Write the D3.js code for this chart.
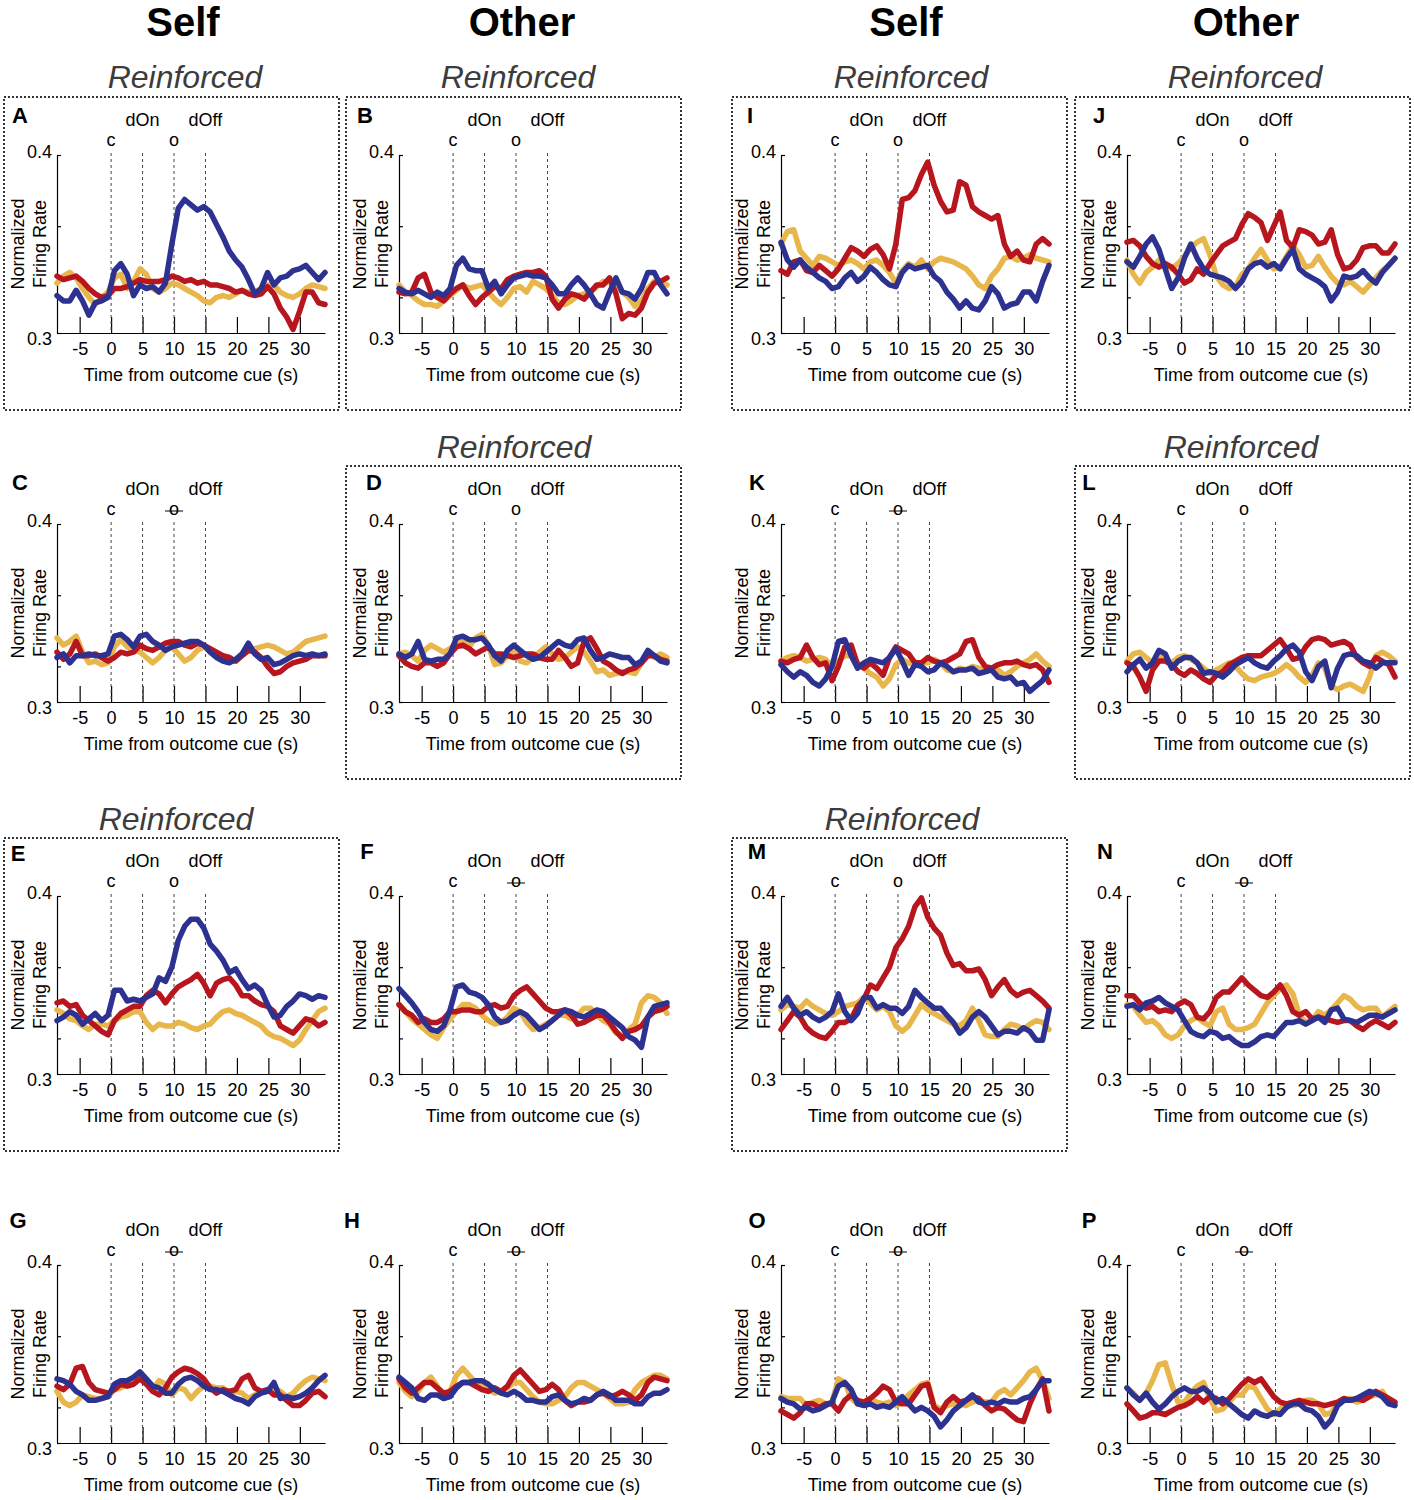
<!DOCTYPE html>
<html lang="en">
<head>
<meta charset="utf-8">
<title>Self / Other - Normalized Firing Rate</title>
<script src="https://cdn.jsdelivr.net/npm/d3@7"></script>
<style>
  body { margin: 0; background: #fff; }
  svg { font-family: "Liberation Sans", Arial, sans-serif; }
  .trace { fill: none; stroke-width: 5.5px; stroke-linejoin: round; stroke-linecap: round; }
  .yellow { stroke: #e8b64a; }
  .red { stroke: #b8161e; }
  .blue { stroke: #2d3291; }
  .event { stroke: #444; stroke-width: 1px; stroke-dasharray: 3,3; }
  .frame { fill: none; stroke: #333; stroke-width: 2px; stroke-dasharray: 2,2; }
  .axis path, .axis line { stroke: #000; stroke-width: 1.2px; }
  .axis text { font-size: 18px; fill: #000; font-family: "Liberation Sans", Arial, sans-serif; }
</style>
</head>
<body>
<script>
// time grid (s from outcome cue) at which the traces were read
const times = d3.range(43).map(i => -8.6 + i * (42.6 / 42));
const xTicks = [-5, 0, 5, 10, 15, 20, 25, 30];
const yTicks = [0.3, 0.32, 0.36, 0.4];
const events = [[0, 'c', 'low'], [5, 'dOn', 'high'], [10, 'o', 'low'], [15, 'dOff', 'high']];

// normalized firing rate x 1000, one value per time point
const A_yellow = [328,332,334,331,325,320,316,320,323,331,333,325,329,336,333,325,323,325,328,327,325,323,321,318,317,320,321,320,322,324,323,323,325,327,327,323,321,320,322,325,327,326,325];
const A_red = [332,330,331,332,329,325,322,320,321,325,325,326,328,330,329,329,329,330,332,331,329,330,328,329,327,327,326,325,323,324,322,321,322,326,322,314,309,302,312,323,323,317,316];
const A_blue = [321,318,318,324,318,310,317,318,320,335,339,333,321,327,325,326,323,328,350,370,375,372,369,371,368,361,354,346,341,337,330,322,325,334,327,331,332,335,336,338,334,330,334];

const B_yellow = [327,323,321,318,316,316,315,318,321,324,327,325,326,327,323,319,316,320,325,326,323,329,327,325,321,317,316,318,321,322,323,326,329,328,326,323,320,315,318,325,329,328,327];
const B_red = [323,322,323,331,333,323,320,318,322,325,327,321,316,320,323,326,325,330,332,333,334,334,335,332,319,314,319,322,321,319,323,327,327,331,322,308,311,310,314,323,328,329,331];
const B_blue = [325,323,322,324,322,320,323,321,325,338,342,336,335,335,325,329,322,327,331,332,333,332,332,331,327,322,322,327,331,327,322,316,314,323,331,323,322,319,325,334,334,327,322];

const I_yellow = [350,357,358,346,342,338,343,342,340,338,340,341,339,336,340,341,338,334,328,335,339,337,341,336,340,342,341,340,338,336,332,327,325,332,336,342,343,341,342,344,342,341,340];
const I_red = [335,333,340,341,335,334,338,335,332,336,342,348,346,343,347,349,344,336,350,375,376,380,389,396,383,374,368,369,385,383,371,368,366,364,366,350,343,346,341,340,350,353,350];
const I_blue = [351,341,337,341,337,334,331,329,325,326,331,334,329,332,337,334,330,327,326,334,338,336,337,338,332,329,323,319,314,318,314,313,318,326,322,314,316,317,323,323,318,329,338];

const J_yellow = [341,333,328,334,337,341,339,336,339,343,348,351,353,344,332,327,325,326,333,336,342,347,341,336,337,343,349,344,337,338,343,337,332,328,327,329,326,323,327,331,335,338,342];
const J_red = [351,352,349,343,339,337,339,337,333,328,330,336,333,339,344,349,351,353,361,367,365,362,352,360,368,352,348,358,357,355,350,351,358,344,336,337,341,348,349,349,345,345,350];
const J_blue = [340,337,343,350,354,347,336,325,331,342,350,342,336,333,332,331,329,325,329,336,339,340,337,339,336,342,347,336,333,331,329,326,318,323,332,331,332,335,331,328,334,338,342];

const C_yellow = [336,332,334,337,328,322,323,321,322,331,335,331,329,328,325,322,325,329,331,327,323,325,329,331,329,327,324,323,323,326,329,330,331,332,331,329,327,328,331,334,335,336,337];
const C_red = [328,324,327,334,326,326,327,325,323,325,328,327,328,332,330,329,331,333,334,334,332,331,333,332,330,328,326,325,323,326,329,328,325,320,316,317,320,322,323,324,326,326,326];
const C_blue = [325,327,322,326,326,327,326,326,327,337,338,335,331,337,338,334,332,329,331,332,333,334,334,332,328,325,323,322,324,327,333,327,324,325,321,322,324,326,327,326,327,326,327];

const D_yellow = [327,328,326,323,329,332,330,328,330,333,334,331,336,338,332,321,322,326,330,323,322,325,328,331,327,324,325,328,331,328,323,317,318,315,316,317,317,316,322,328,325,327,325];
const D_red = [326,322,320,319,322,322,320,322,327,331,332,330,327,329,331,327,327,326,325,326,327,327,325,324,324,329,325,320,322,334,336,330,323,321,318,316,318,319,322,326,326,324,323];
const D_blue = [327,325,327,334,324,323,324,324,327,336,337,335,335,336,332,326,323,329,332,329,326,324,325,328,331,334,332,331,335,336,329,324,325,327,326,325,325,321,323,329,326,323,322];

const K_yellow = [323,325,326,325,323,324,325,324,320,323,326,326,322,319,316,314,309,313,321,324,322,321,322,322,324,322,318,317,319,318,320,319,318,319,318,315,317,320,322,324,327,323,320];
const K_red = [323,322,324,325,332,325,321,322,312,320,331,332,321,319,322,319,315,325,331,329,327,322,322,325,323,322,323,325,327,334,335,325,320,319,321,322,322,323,321,320,321,318,311];
const K_blue = [321,317,314,317,315,311,309,313,320,334,335,326,319,322,324,323,322,325,330,323,315,321,320,317,318,322,320,317,318,318,319,316,317,318,314,313,314,310,311,306,309,312,318];

const L_yellow = [323,327,328,325,322,326,324,322,325,326,324,322,319,316,318,320,322,320,316,313,312,314,315,316,318,321,318,314,311,315,322,319,309,307,309,310,308,306,314,326,328,326,323];
const L_red = [322,320,314,306,318,323,323,321,317,315,318,316,313,311,315,317,321,323,325,326,326,326,329,332,335,330,324,325,331,335,336,335,332,333,334,332,325,322,320,325,323,321,314];
const L_blue = [317,321,324,319,322,329,327,319,323,325,325,322,316,317,316,314,317,321,323,325,322,320,319,323,326,330,332,328,317,312,320,323,308,319,326,327,326,323,322,319,322,322,322];

const E_yellow = [336,334,331,330,327,325,328,328,327,330,332,333,335,335,329,325,328,327,327,329,328,326,325,327,328,332,335,336,334,333,331,329,327,323,321,320,318,316,319,325,330,335,337];
const E_red = [340,341,338,339,333,330,327,324,322,330,334,336,338,338,344,347,345,340,345,349,351,353,356,351,344,351,353,354,350,344,344,341,339,338,335,327,325,323,327,331,330,327,329];
const E_blue = [330,332,335,333,328,331,334,330,333,347,347,341,342,341,343,345,354,352,360,375,383,387,387,382,373,369,364,357,359,353,348,350,347,339,332,333,338,341,345,344,342,344,343];

const F_yellow = [339,335,331,328,325,322,320,326,331,335,339,339,337,333,330,328,329,332,337,335,329,325,326,328,330,333,333,331,333,337,337,333,330,328,323,322,325,328,340,344,343,340,334];
const F_red = [339,335,333,329,331,329,329,331,335,335,336,336,335,335,338,339,337,338,344,347,349,345,341,337,335,335,336,333,328,329,331,333,333,329,324,320,324,325,327,332,335,336,338];
const F_blue = [348,344,340,335,329,325,324,327,336,349,350,346,345,343,339,332,329,330,333,335,333,329,325,327,330,333,336,335,333,332,334,336,335,332,329,326,321,319,315,332,338,339,340];

const M_yellow = [336,339,338,337,341,338,336,334,333,335,338,339,340,343,340,336,338,335,327,324,327,333,339,336,334,332,330,328,327,330,337,330,322,321,321,325,328,327,325,328,330,329,325];
const M_red = [325,330,335,332,326,323,321,320,324,329,329,331,338,342,350,348,354,360,371,376,383,394,399,388,382,378,368,361,362,358,358,359,353,344,349,353,347,344,346,347,344,341,337];
const M_blue = [338,343,337,333,335,332,330,332,335,345,335,330,334,343,343,337,339,337,337,334,338,347,343,340,337,337,333,329,323,326,332,335,332,327,322,324,324,323,326,324,319,319,336];

const N_yellow = [339,338,333,329,330,327,322,320,322,327,330,332,329,327,335,337,328,325,325,326,328,334,340,344,348,350,345,333,329,330,335,333,336,340,344,342,338,336,337,337,332,335,338];
const N_red = [344,344,340,337,338,335,336,335,339,341,339,332,331,335,343,346,346,350,354,350,347,344,343,346,350,344,335,333,335,331,332,331,330,329,330,330,327,325,328,330,328,326,329];
const N_blue = [338,339,336,340,341,343,340,338,336,330,324,322,321,324,323,320,321,318,316,316,318,321,322,321,325,329,329,330,328,330,332,329,336,337,331,330,329,331,333,333,332,334,336];

const G_yellow = [329,323,321,323,327,326,325,325,326,330,331,333,335,338,333,330,335,333,327,331,330,325,329,332,332,331,331,328,329,328,325,327,329,330,331,329,326,328,332,335,337,336,335];
const G_red = [332,330,333,342,343,334,330,329,328,330,333,332,333,336,333,329,327,331,337,340,342,341,339,336,331,328,330,329,330,336,338,331,329,330,327,327,324,321,321,324,328,329,326];
const G_blue = [336,335,333,329,327,324,324,325,326,333,335,335,337,340,336,332,331,328,328,333,336,337,335,332,330,330,329,327,325,324,322,326,328,329,334,325,326,325,326,328,331,335,338];

const H_yellow = [334,329,326,329,334,337,332,326,329,338,342,338,334,332,330,328,329,331,334,334,330,326,323,322,322,324,326,331,334,334,332,330,328,325,322,322,323,330,334,336,338,338,336];
const H_red = [336,331,328,331,334,334,331,328,329,332,334,334,332,330,329,331,329,332,338,341,337,333,329,330,333,330,324,321,323,323,324,327,328,326,327,329,327,324,327,334,337,336,335];
const H_blue = [337,334,331,325,324,327,327,325,326,331,334,334,335,335,333,330,328,327,329,327,324,324,323,323,326,327,324,322,323,325,324,327,329,327,324,324,324,322,322,326,328,328,330];

const O_yellow = [326,325,325,325,321,323,324,322,323,336,334,325,322,323,325,323,322,323,321,323,327,330,333,334,321,319,321,322,322,321,323,324,323,323,328,330,327,331,335,340,342,335,325];
const O_red = [318,316,314,317,322,322,320,322,322,318,324,327,324,323,325,328,332,330,323,322,322,327,332,333,320,317,323,326,323,324,326,325,321,318,320,319,316,313,312,322,330,336,318];
const O_blue = [325,323,322,319,320,318,319,321,323,332,334,330,322,321,322,320,321,320,323,326,322,318,320,318,315,309,313,318,321,324,327,323,322,323,322,324,323,323,325,326,330,335,335];

const P_yellow = [331,328,324,328,335,344,345,333,323,323,328,332,334,325,318,319,323,327,327,332,331,325,319,316,319,322,321,322,324,324,322,316,317,322,324,325,323,324,326,327,329,324,322];
const P_red = [322,318,314,315,317,317,316,318,320,321,323,326,323,326,325,322,325,329,333,336,334,336,331,326,323,322,323,324,323,322,322,321,322,323,325,324,325,324,326,329,327,325,323];
const P_blue = [331,327,324,328,323,319,322,326,329,331,329,329,331,328,323,325,322,319,316,314,318,316,315,317,316,320,322,322,319,318,315,309,313,321,324,324,325,327,329,328,326,322,321];

const headers = [['Self', 183], ['Other', 522], ['Self', 906], ['Other', 1246]];

// layout
const X0 = [57, 399, 781, 1127];
const Y0 = [155, 524, 896, 1265];
const FRAME_X = [4, 346, 732, 1075];
const W = 268, H = 178;

const panels = [
  { id: 'A', col: 0, row: 0, title: [185, 80], letter: [20, 117], bar: false, data: [A_yellow, A_red, A_blue] },
  { id: 'B', col: 1, row: 0, title: [518, 80], letter: [365, 117], bar: false, data: [B_yellow, B_red, B_blue] },
  { id: 'I', col: 2, row: 0, title: [911, 80], letter: [750, 117], bar: false, data: [I_yellow, I_red, I_blue] },
  { id: 'J', col: 3, row: 0, title: [1245, 80], letter: [1099, 117], bar: false, data: [J_yellow, J_red, J_blue] },
  { id: 'C', col: 0, row: 1, title: null, letter: [20, 484], bar: true, data: [C_yellow, C_red, C_blue] },
  { id: 'D', col: 1, row: 1, title: [514, 450], letter: [374, 484], bar: false, data: [D_yellow, D_red, D_blue] },
  { id: 'K', col: 2, row: 1, title: null, letter: [757, 484], bar: true, data: [K_yellow, K_red, K_blue] },
  { id: 'L', col: 3, row: 1, title: [1241, 450], letter: [1089, 484], bar: false, data: [L_yellow, L_red, L_blue] },
  { id: 'E', col: 0, row: 2, title: [176, 822], letter: [18, 855], bar: false, data: [E_yellow, E_red, E_blue] },
  { id: 'F', col: 1, row: 2, title: null, letter: [367, 853], bar: true, data: [F_yellow, F_red, F_blue] },
  { id: 'M', col: 2, row: 2, title: [902, 822], letter: [757, 853], bar: false, data: [M_yellow, M_red, M_blue] },
  { id: 'N', col: 3, row: 2, title: null, letter: [1105, 853], bar: true, data: [N_yellow, N_red, N_blue] },
  { id: 'G', col: 0, row: 3, title: null, letter: [18, 1222], bar: true, data: [G_yellow, G_red, G_blue] },
  { id: 'H', col: 1, row: 3, title: null, letter: [352, 1222], bar: true, data: [H_yellow, H_red, H_blue] },
  { id: 'O', col: 2, row: 3, title: null, letter: [757, 1222], bar: true, data: [O_yellow, O_red, O_blue] },
  { id: 'P', col: 3, row: 3, title: null, letter: [1089, 1222], bar: true, data: [P_yellow, P_red, P_blue] }
];
const seriesClass = ['yellow', 'red', 'blue'];

const svg = d3.select('body').append('svg')
  .attr('width', 1414)
  .attr('height', 1500);

svg.selectAll('text.header')
  .data(headers)
  .join('text')
    .attr('class', 'header')
    .attr('x', d => d[1])
    .attr('y', 36)
    .attr('text-anchor', 'middle')
    .attr('font-size', 40)
    .attr('font-weight', 'bold')
    .text(d => d[0]);

panels.forEach(p => {
  const left = X0[p.col], top = Y0[p.row];
  const x = d3.scaleLinear().domain([-8.6, 34]).range([left, left + W]);
  const y = d3.scaleLinear().domain([0.3, 0.4]).range([top + H, top]);
  const g = svg.append('g').attr('class', 'panel');

  // reinforced conditions get a dotted box and title
  if (p.title) {
    g.append('rect')
      .attr('class', 'frame')
      .attr('x', FRAME_X[p.col])
      .attr('y', top - 58)
      .attr('width', 335)
      .attr('height', 313);
    g.append('text')
      .attr('x', p.title[0])
      .attr('y', p.title[1])
      .attr('text-anchor', 'middle')
      .attr('dominant-baseline', 'middle')
      .attr('font-size', 32)
      .attr('font-style', 'italic')
      .attr('fill', '#3c3c3c')
      .text('Reinforced');
  }

  g.append('text')
    .attr('x', p.letter[0])
    .attr('y', p.letter[1])
    .attr('text-anchor', 'middle')
    .attr('dominant-baseline', 'middle')
    .attr('font-size', 22)
    .attr('font-weight', 'bold')
    .text(p.id);

  // axes
  g.append('g')
    .attr('class', 'axis')
    .attr('transform', `translate(0,${top + H})`)
    .call(d3.axisBottom(x).tickValues(xTicks).tickSizeInner(-16).tickSizeOuter(0)
      .tickPadding(9).tickFormat(d => String(d)));

  const ya = g.append('g')
    .attr('class', 'axis')
    .attr('transform', `translate(${left},0)`)
    .call(d3.axisLeft(y).tickValues(yTicks).tickSizeInner(-4).tickSizeOuter(0)
      .tickPadding(5).tickFormat(d => (d === 0.4 || d === 0.3) ? d.toFixed(1) : ''));
  ya.selectAll('.tick text')
    .attr('dy', d => d === 0.4 ? '0.15em' : '0.62em');

  g.append('text')
    .attr('x', left + W / 2)
    .attr('y', top + H + 43)
    .attr('text-anchor', 'middle')
    .attr('dominant-baseline', 'middle')
    .attr('font-size', 18)
    .text('Time from outcome cue (s)');

  [['Normalized', -38], ['Firing Rate', -16]].forEach(([t, dx]) => {
    g.append('text')
      .attr('transform', `translate(${left + dx},${top + H / 2}) rotate(-90)`)
      .attr('text-anchor', 'middle')
      .attr('dominant-baseline', 'middle')
      .attr('font-size', 18)
      .text(t);
  });

  // task events
  g.selectAll('line.event')
    .data(events)
    .join('line')
      .attr('class', 'event')
      .attr('x1', d => x(d[0]))
      .attr('x2', d => x(d[0]))
      .attr('y1', top - 2)
      .attr('y2', top + H);

  g.selectAll('text.evlabel')
    .data(events)
    .join('text')
      .attr('class', 'evlabel')
      .attr('x', d => x(d[0]))
      .attr('y', d => d[2] === 'high' ? top - 34 : top - 14)
      .attr('text-anchor', 'middle')
      .attr('dominant-baseline', 'middle')
      .attr('font-size', 18)
      .text(d => d[1]);

  if (p.bar) {
    g.append('line')
      .attr('x1', x(10) - 9)
      .attr('x2', x(10) + 9)
      .attr('y1', top - 13)
      .attr('y2', top - 13)
      .attr('stroke', '#000')
      .attr('stroke-width', 1);
  }

  // traces
  const line = d3.line()
    .x((d, i) => x(times[i]))
    .y(d => y(d / 1000));

  p.data.forEach((s, k) => {
    g.append('path')
      .attr('class', 'trace ' + seriesClass[k])
      .attr('d', line(s));
  });
});
</script>
</body>
</html>
